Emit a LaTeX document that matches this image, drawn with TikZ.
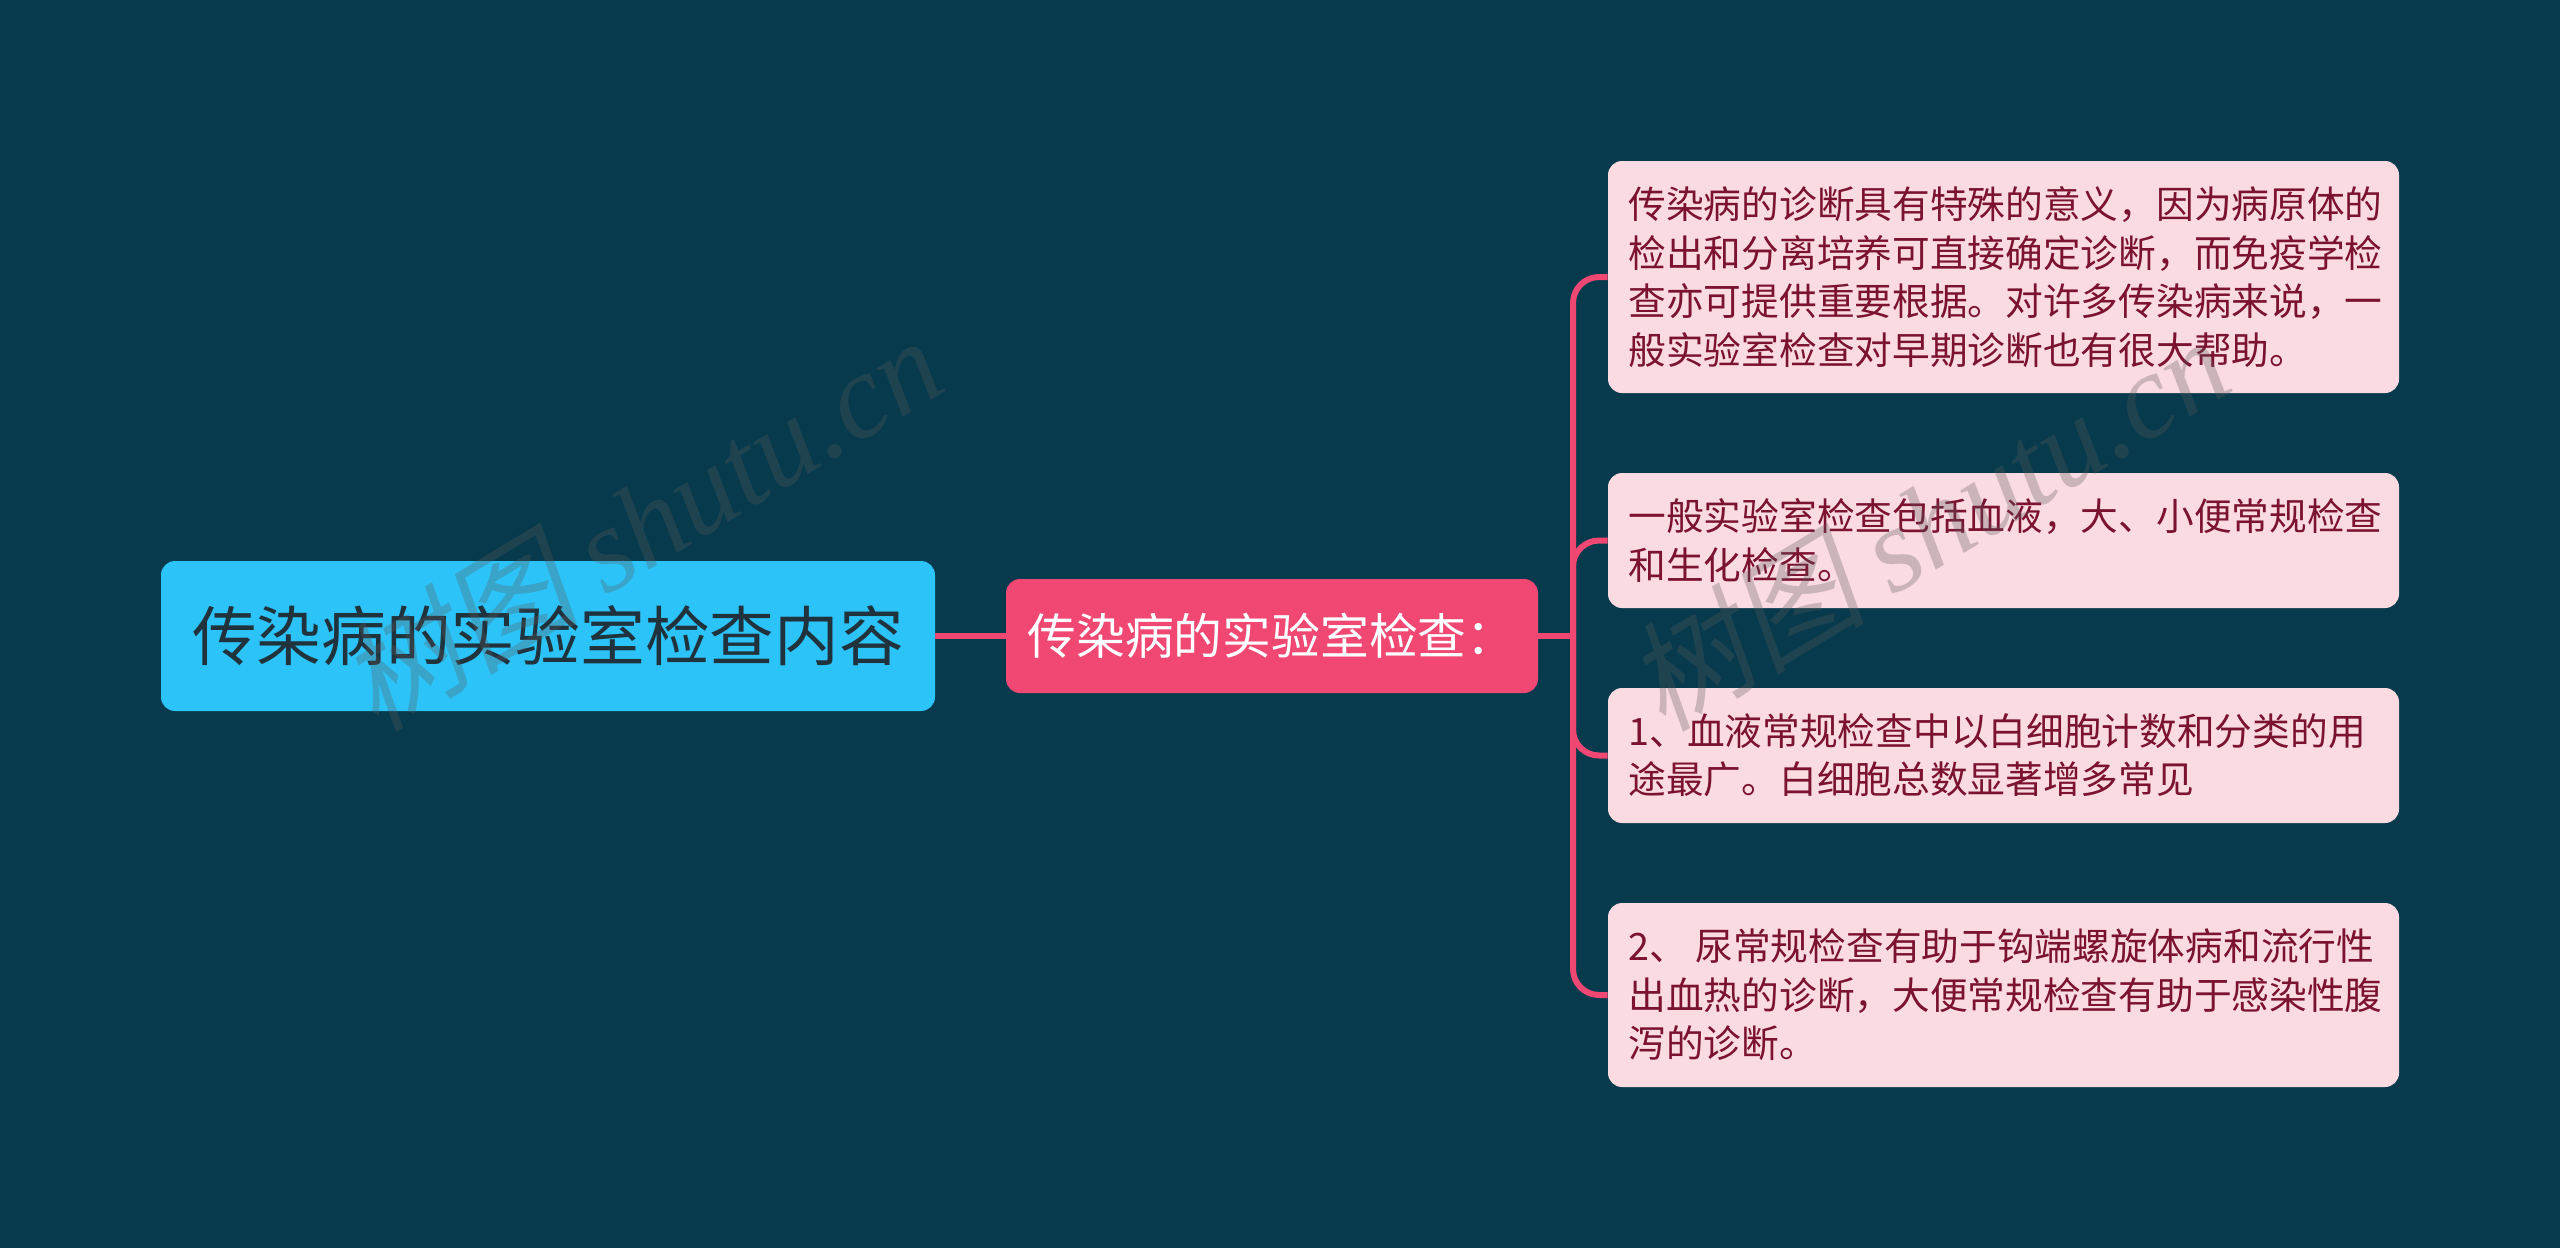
\documentclass[tikz,border=0pt]{standalone}
\usepackage{fontspec}
\setmainfont{Noto Sans CJK SC}
\newfontfamily\wmfont{Liberation Serif}
\newfontfamily\wmcjk[FakeSlant=0.2]{Noto Sans CJK SC}
\definecolor{bgcol}{HTML}{073A4D}
\definecolor{rootcol}{HTML}{2CC3F8}
\definecolor{subcol}{HTML}{F04872}
\definecolor{leafcol}{HTML}{FBDBE2}
\definecolor{leaftext}{HTML}{7A1230}
\definecolor{roottext}{HTML}{20323C}
\definecolor{wmcol}{HTML}{5A5A5A}
\newcommand{\leaftxt}[1]{\hspace{3pt}\raisebox{-1.6pt}{\parbox{378pt}{\raggedright #1}}}
\tikzset{
    rootbox/.style={fill=rootcol, text=roottext, rounded corners=7pt, inner sep=0pt, font=\fontsize{32.35pt}{40pt}\selectfont},
    subbox/.style={fill=subcol, text=white, rounded corners=7pt, inner sep=0pt, font=\fontsize{24.4pt}{30pt}\selectfont},
    leafbox/.style={fill=leafcol, text=leaftext, rounded corners=7pt, inner sep=0pt, minimum width=395.5pt, font=\fontsize{18.85pt}{24.2pt}\selectfont},
    link/.style={draw=subcol, line width=3pt},
    wmark/.style={rotate=31, text=wmcol, opacity=0.3, font=\fontsize{60pt}{66pt}\selectfont},
}
\begin{document}
\begin{tikzpicture}[x=0.5pt, y=-0.5pt]
\fill[bgcol] (0,0) rectangle (2560,1248);
\useasboundingbox (0,0) rectangle (2560,1248);
% nodes
\node[rootbox, minimum width=387pt, minimum height=75pt] (root) at (548,636) {传染病的实验室检查内容};
\node[subbox, minimum width=266pt, minimum height=57pt] (sub) at (1272,636) {\hspace{-0.5pt}传染病的实验室检查：};
\node[leafbox, minimum height=116pt] (first) at (2003.5,277) {\leaftxt{传染病的诊断具有特殊的意义，因为病原体的\\检出和分离培养可直接确定诊断，而免疫学检\\查亦可提供重要根据。对许多传染病来说，一\\般实验室检查对早期诊断也有很大帮助。}};
\node[leafbox, minimum height=67.5pt] (second) at (2003.5,540.5) {\leaftxt{一般实验室检查包括血液，大、小便常规检查\\和生化检查。}};
\node[leafbox, minimum height=67.5pt] (third) at (2003.5,755.5) {\leaftxt{1、血液常规检查中以白细胞计数和分类的用\\途最广。白细胞总数显著增多常见}};
\node[leafbox, minimum height=92pt] (fourth) at (2003.5,995) {\leaftxt{2、 尿常规检查有助于钩端螺旋体病和流行性\\出血热的诊断，大便常规检查有助于感染性腹\\泻的诊断。}};
% connectors
\coordinate (trunk) at (1573,636);
\draw[link] (root.east) -- (sub.west);
\draw[link] (sub.east) -- (trunk);
\foreach \leaf in {first, second, third, fourth}
    \draw[link, rounded corners=13pt] (trunk) -- (trunk |- \leaf.west) -- (\leaf.west);
% watermark
\node[wmark] (markleft) at (640,522) {{\wmcjk 树图} {\wmfont\itshape shutu.cn}};
\node[wmark] (markright) at (1927,522) {{\wmcjk 树图} {\wmfont\itshape shutu.cn}};
\end{tikzpicture}
\end{document}
